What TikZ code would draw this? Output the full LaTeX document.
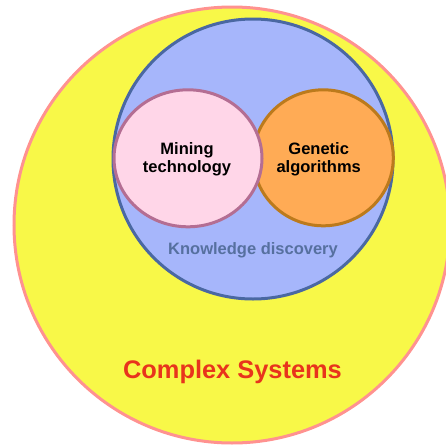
\documentclass[tikz,border=0pt]{standalone}
\usepackage{fontspec}
\setmainfont{Liberation Sans}
\definecolor{cyel}{HTML}{F8F848}
\definecolor{cyelb}{HTML}{FF9290}
\definecolor{cblue}{HTML}{A6B6FB}
\definecolor{cblueb}{HTML}{4A68A2}
\definecolor{cpink}{HTML}{FFD6E8}
\definecolor{cpinkb}{HTML}{B46E93}
\definecolor{corange}{HTML}{FFAB55}
\definecolor{coranb}{HTML}{BC7A1C}
\definecolor{cktext}{HTML}{56709F}
\definecolor{cred}{HTML}{E8341C}
\tikzset{
  ring/.style={line width=3pt},
  lbl/.style={font=\bfseries\fontsize{16.5}{18.3}\selectfont, align=center, inner sep=0pt},
}
\begin{document}
\begin{tikzpicture}[x=1pt,y=-1pt]
\useasboundingbox (0,0) rectangle (446,448);
\clip (0,0) rectangle (446,448);
\fill[white] (0,0) rectangle (446,448);
% Complex systems
\draw[ring, draw=cyelb, fill=cyel] (232,225) circle [radius=218];
% Knowledge discovery
\draw[ring, draw=cblueb, fill=cblue] (253,159) circle [radius=140];
% Genetic algorithms
\draw[ring, draw=coranb, fill=corange] (323.3,157.8) ellipse [x radius=70, y radius=68];
% Mining technology
\draw[ring, draw=cpinkb, fill=cpink] (188,158.3) ellipse [x radius=74, y radius=68.5];
\node[lbl] (mining) at (187,159) {Mining\\technology};
\node[lbl] (genetic) at (318.7,159) {Genetic\\algorithms};
\node[lbl, text=cktext, anchor=base] (know) at (253,254.3) {Knowledge discovery};
\node[font=\bfseries\fontsize{25.4}{28}\selectfont, text=cred, inner sep=0pt, anchor=base] (complex) at (232.5,378.3) {Complex Systems};
\end{tikzpicture}
\end{document}
